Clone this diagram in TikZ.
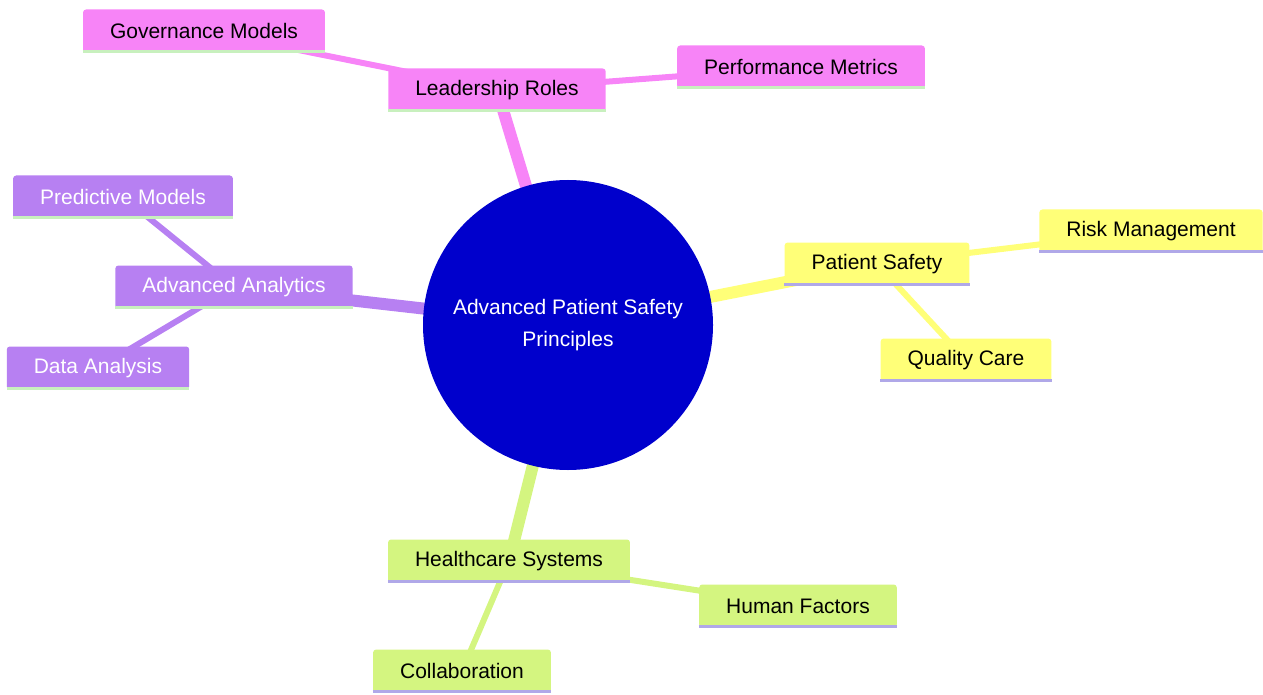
\documentclass[tikz,border=0pt]{standalone}
\usepackage{fontspec}
\setmainfont{Liberation Sans}
\usetikzlibrary{backgrounds}
\definecolor{rootblue}{RGB}{0,0,204}
\definecolor{pinkbr}{RGB}{247,132,247}
\definecolor{purplebr}{RGB}{183,128,242}
\definecolor{yellowbr}{RGB}{255,255,120}
\definecolor{greenbr}{RGB}{212,245,128}
\definecolor{ulgreen}{RGB}{200,240,190}
\definecolor{ulblue}{RGB}{176,168,232}
\begin{document}
\begin{tikzpicture}[x=1pt, y=-1pt,
  box/.style={rounded corners=3pt, minimum height=43pt, inner xsep=27pt, font=\fontsize{21}{25}\selectfont},
  mainedge/.style={line width=12pt},
  subedge/.style={line width=6pt}]
  \useasboundingbox (0,0) rectangle (1263,695);
  \node[circle, fill=rootblue, minimum size=290pt, text=white, align=center, font=\fontsize{21}{32}\selectfont] (root) at (568,325) {Advanced Patient Safety\\Principles};
  % branches
  \node[box, fill=pinkbr] (lead) at (497,90) {Leadership Roles};
  \node[box, fill=pinkbr] (gov) at (204,31) {Governance Models};
  \node[box, fill=pinkbr] (perf) at (801,67) {Performance Metrics};
  \node[box, fill=purplebr, text=white] (analytics) at (234,287) {Advanced Analytics};
  \node[box, fill=purplebr, text=white] (predict) at (123,197) {Predictive Models};
  \node[box, fill=purplebr, text=white] (data) at (98,368) {Data Analysis};
  \node[box, fill=yellowbr] (safety) at (877,264) {Patient Safety};
  \node[box, fill=yellowbr] (risk) at (1151,231) {Risk Management};
  \node[box, fill=yellowbr] (quality) at (966,360) {Quality Care};
  \node[box, fill=greenbr] (health) at (509,561) {Healthcare Systems};
  \node[box, fill=greenbr] (human) at (798,606) {Human Factors};
  \node[box, fill=greenbr] (collab) at (462,671) {Collaboration};
  \foreach \n/\c in {lead/ulgreen, gov/ulgreen, perf/ulgreen, analytics/ulgreen, predict/ulgreen, data/ulgreen,
    safety/ulblue, risk/ulblue, quality/ulblue, health/ulblue, human/ulblue, collab/ulblue}
    \draw[\c, line width=3pt] ([yshift=1.5pt]\n.south west) -- ([yshift=1.5pt]\n.south east);
  \begin{scope}[on background layer]
    \draw[mainedge, pinkbr] (root.center) -- (lead.center);
    \draw[subedge, pinkbr] (lead.center) -- (gov.center);
    \draw[subedge, pinkbr] (lead.center) -- (perf.center);
    \draw[mainedge, purplebr] (root.center) -- (analytics.center);
    \draw[subedge, purplebr] (analytics.center) -- (predict.center);
    \draw[subedge, purplebr] (analytics.center) -- (data.center);
    \draw[mainedge, yellowbr] (root.center) -- (safety.center);
    \draw[subedge, yellowbr] (safety.center) -- (risk.center);
    \draw[subedge, yellowbr] (safety.center) -- (quality.center);
    \draw[mainedge, greenbr] (root.center) -- (health.center);
    \draw[subedge, greenbr] (health.center) -- (human.center);
    \draw[subedge, greenbr] (health.center) -- (collab.center);
  \end{scope}
\end{tikzpicture}
\end{document}
